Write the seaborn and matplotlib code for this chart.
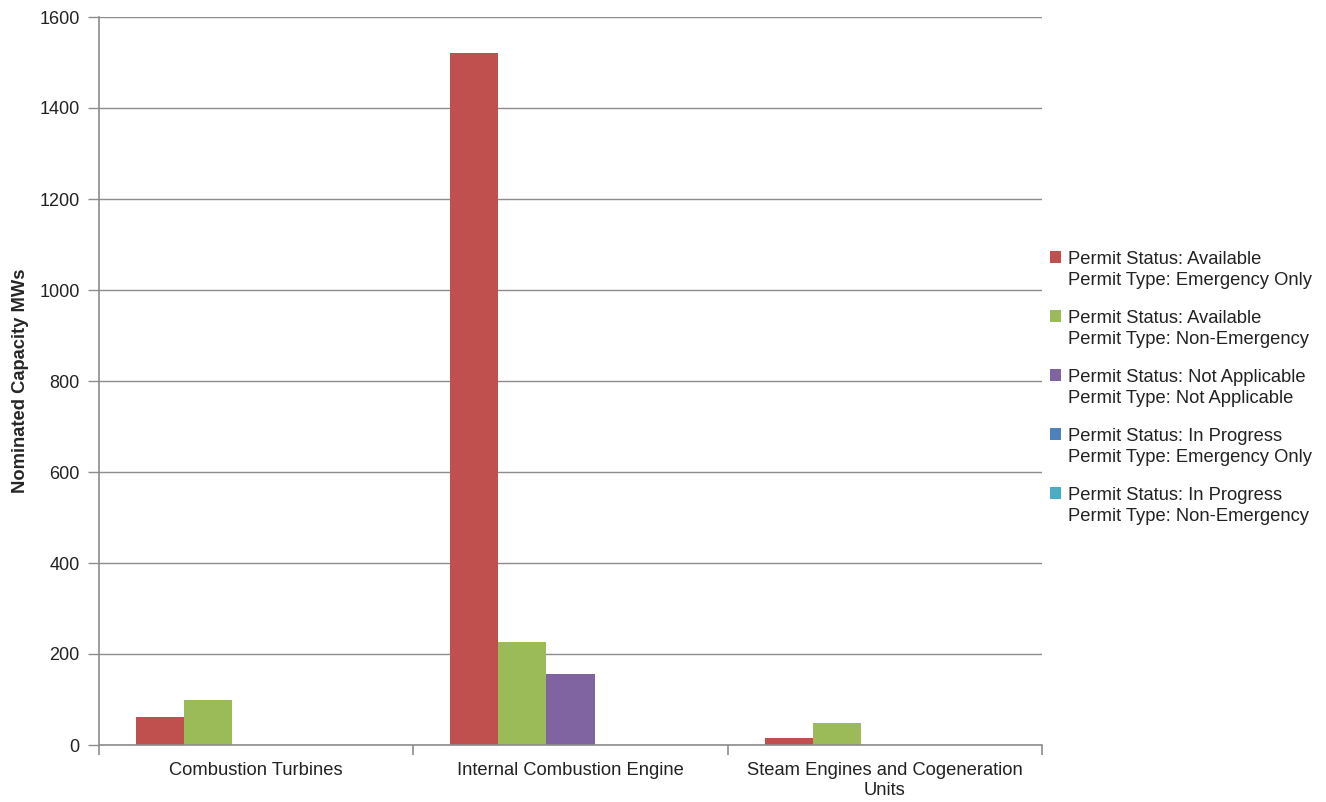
import matplotlib
matplotlib.use("Agg")
import matplotlib.pyplot as plt
import seaborn as sns
import pandas as pd
from matplotlib.ticker import FixedLocator

categories = ["Combustion Turbines", "Internal Combustion Engine",
              "Steam Engines and Cogeneration\nUnits"]
series_names = [
    "Permit Status: Available\nPermit Type: Emergency Only",
    "Permit Status: Available\nPermit Type: Non-Emergency",
    "Permit Status: Not Applicable\nPermit Type: Not Applicable",
    "Permit Status: In Progress\nPermit Type: Emergency Only",
    "Permit Status: In Progress\nPermit Type: Non-Emergency",
]
avail_emergency = [62, 1521, 16]
avail_nonemergency = [99, 227, 48]
not_applicable = [0, 157, 0]
inprog_emergency = [0, 0, 0]
inprog_nonemergency = [0, 0, 0]
colors = ["#C0504D", "#9BBB59", "#8064A2", "#4F81BD", "#4BACC6"]
yticks = [0, 200, 400, 600, 800, 1000, 1200, 1400, 1600]

rows = []
for name, vals in zip(series_names, [avail_emergency, avail_nonemergency, not_applicable,
                                     inprog_emergency, inprog_nonemergency]):
    for c, v in zip(categories, vals):
        rows.append({"cat": c, "series": name, "value": v})
df = pd.DataFrame(rows)

sns.set_style("white")
plt.rcParams["font.family"] = ["Liberation Sans", "DejaVu Sans"]

fig = plt.figure(figsize=(13.26, 8.02), dpi=100)
ax = fig.add_axes([99/1326, 1-745/802, (1042-99)/1326, (745-17)/802])

sns.barplot(data=df, x="cat", y="value", hue="series", order=categories,
            hue_order=series_names, palette=colors, width=0.765,
            saturation=1, ax=ax, edgecolor="none", linewidth=0)

ax.set_ylim(0, 1600)
ax.set_xlim(-0.5, 2.5)
ax.set_yticks(yticks)
ax.set_yticklabels([str(t) for t in yticks], fontsize=13, color="#222222")
ax.yaxis.grid(True, color="#8c8c8c", linewidth=1)
ax.set_axisbelow(True)
ax.tick_params(axis="y", length=8, color="#8c8c8c", width=1, pad=6, left=True)
ax.set_xticks(range(3))
ax.set_xticklabels(categories, fontsize=13.2, color="#222222", linespacing=1.25)
ax.tick_params(axis="x", which="major", length=0, pad=12)
ax.xaxis.set_minor_locator(FixedLocator([-0.5, 0.5, 1.5, 2.5]))
ax.tick_params(axis="x", which="minor", length=7, color="#8c8c8c", width=1.2, bottom=True)
for s in ["top", "right"]:
    ax.spines[s].set_visible(False)
for s in ["left", "bottom"]:
    ax.spines[s].set_color("#8c8c8c")
    ax.spines[s].set_linewidth(1.2)
ax.set_xlabel("")
ax.set_ylabel("Nominated Capacity MWs", fontsize=13.2, fontweight="bold",
              family=["Liberation Sans Narrow", "Liberation Sans", "DejaVu Sans"], labelpad=7)

leg = ax.legend(loc="center left", bbox_to_anchor=(1 + 8/943, 0.49), frameon=False,
                fontsize=13.2, handlelength=0.62, handleheight=0.62, handletextpad=0.35,
                labelspacing=1.15, borderaxespad=0, borderpad=0)
for t in leg.get_texts():
    t.set_color("#222222")
    t.set_linespacing(1.3)
for col in leg._legend_handle_box.get_children():
    for hp in col.get_children():
        hp.align = "top"

fig.savefig("out.png", dpi=100)
